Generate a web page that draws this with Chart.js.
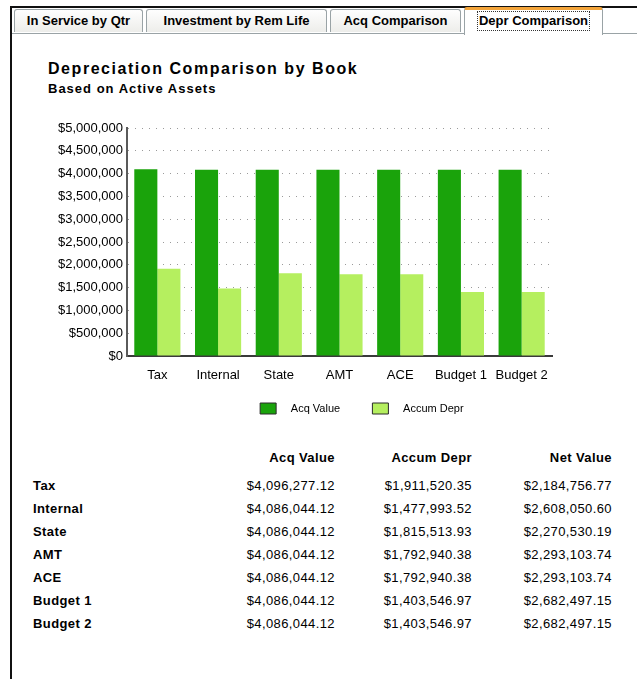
<!DOCTYPE html>
<html>
<head>
<meta charset="utf-8">
<title>Depr Comparison</title>
<script src="https://cdn.jsdelivr.net/npm/chart.js@4.4.1/dist/chart.umd.min.js"></script>
<style>
  html, body {
    margin: 0;
    padding: 0;
    background: #fff;
    width: 637px;
    height: 679px;
    overflow: hidden;
    font-family: "Liberation Sans", Arial, sans-serif;
    color: #000;
  }
  .frame {
    position: absolute;
    left: 10px;
    top: 6px;
    width: 640px;
    height: 700px;
    border-left: 2px solid #111;
    border-top: 2px solid #111;
  }
  .tabline {
    position: absolute;
    left: 12px;
    top: 33px;
    width: 625px;
    height: 0;
    border-top: 1px solid #9aa3a6;
  }
  .tab {
    position: absolute;
    top: 9px;
    height: 23px;
    box-sizing: border-box;
    border: 1px solid #9aa3a6;
    border-bottom: none;
    border-radius: 3px 3px 0 0;
    background: linear-gradient(#fefefe, #ededea);
    font-weight: bold;
    font-size: 13px;
    line-height: 22px;
    text-align: center;
    white-space: nowrap;
  }
  .tab.active {
    top: 7px;
    height: 28px;
    background: #fff;
    border-top: 3px solid #f3a43a;
    line-height: 22px;
  }
  .tab.active span {
    display: inline-block;
    border: 1px dotted #333;
    padding: 0 1px;
    line-height: 18px;
  }
  .title {
    position: absolute;
    left: 48px;
    top: 61px;
    font-size: 16px;
    line-height: 16px;
    font-weight: bold;
    letter-spacing: 1.55px;
  }
  .subtitle {
    position: absolute;
    left: 48px;
    top: 82px;
    font-size: 13px;
    line-height: 13px;
    font-weight: bold;
    letter-spacing: 1px;
  }
  #chartBox {
    position: absolute;
    left: 0;
    top: 110px;
    width: 637px;
    height: 314px;
  }
  .cell {
    position: absolute;
    font-size: 13px;
    line-height: 16px;
    white-space: nowrap;
    letter-spacing: 0.4px;
  }
  .cell.b { font-weight: bold; }
</style>
</head>
<body>
<div class="frame"></div>
<div class="tabline"></div>
<div class="tab" style="left:14px;width:129px;">In Service by Qtr</div>
<div class="tab" style="left:146px;width:181px;">Investment by Rem Life</div>
<div class="tab" style="left:330px;width:131px;">Acq Comparison</div>
<div class="tab active" style="left:464px;width:139px;"><span>Depr Comparison</span></div>

<div class="title">Depreciation Comparison by Book</div>
<div class="subtitle">Based on Active Assets</div>

<div id="chartBox"><canvas id="deprChart"></canvas></div>
<div id="summary"></div>

<script>
// Books and their totals
const books = ["Tax", "Internal", "State", "AMT", "ACE", "Budget 1", "Budget 2"];
const acqValue = [4096277.12, 4086044.12, 4086044.12, 4086044.12, 4086044.12, 4086044.12, 4086044.12];
const accumDepr = [1911520.35, 1477993.52, 1815513.93, 1792940.38, 1792940.38, 1403546.97, 1403546.97];
const netValue = [2184756.77, 2608050.60, 2270530.19, 2293103.74, 2293103.74, 2682497.15, 2682497.15];

const seriesNames = ["Acq Value", "Accum Depr"];
const columnNames = ["Acq Value", "Accum Depr", "Net Value"];

const ACQ_COLOR = "#1aa30b";
const DEPR_COLOR = "#b5ef5f";
const FONT = "'Liberation Sans', Arial, sans-serif";

const money = (v) => "$" + v.toLocaleString("en-US");
const money2 = (v) =>
  "$" + v.toLocaleString("en-US", { minimumFractionDigits: 2, maximumFractionDigits: 2 });

// nudge the legend row to the right, it sits off-centre under the plot
const legendNudge = {
  id: "legendNudge",
  afterLayout(chart) {
    chart.legend.left += 30;
    chart.legend.right += 30;
  },
};

const ctx = document.getElementById("deprChart").getContext("2d");

new Chart(ctx, {
  type: "bar",
  data: {
    labels: books,
    datasets: [
      {
        label: seriesNames[0],
        data: acqValue,
        backgroundColor: ACQ_COLOR,
        borderWidth: 0,
      },
      {
        label: seriesNames[1],
        data: accumDepr,
        backgroundColor: DEPR_COLOR,
        borderWidth: 0,
      },
    ],
  },
  options: {
    responsive: true,
    maintainAspectRatio: false,
    animation: false,
    datasets: {
      bar: {
        categoryPercentage: 0.76,
        barPercentage: 1.0,
      },
    },
    layout: {
      padding: { left: 0, top: 18, right: 85, bottom: 0 },
    },
    plugins: {
      tooltip: { enabled: false },
      legend: {
        display: true,
        position: "bottom",
        fullSize: false,
        labels: {
          boxWidth: 16,
          boxHeight: 11,
          padding: 17,
          color: "#000",
          font: { family: FONT, size: 11 },
          generateLabels(chart) {
            // wider gap after the swatch and between the two entries
            return Chart.defaults.plugins.legend.labels
              .generateLabels(chart)
              .map((item) => ({
                ...item,
                text: "   " + item.text + "     ",
                strokeStyle: "#2b2b2b",
                lineWidth: 1,
              }));
          },
        },
      },
    },
    scales: {
      x: {
        grid: { display: false, drawTicks: false },
        border: { display: true, color: "#3a3a3a", width: 2 },
        ticks: {
          padding: 12,
          maxRotation: 0,
          autoSkip: false,
          color: "#000",
          font: { family: FONT, size: 13 },
        },
        afterFit(scale) {
          scale.height = 30;
        },
      },
      y: {
        min: 0,
        max: 5000000,
        grid: { color: "#9a9a9a", lineWidth: 1, drawTicks: false },
        border: { display: true, color: "#5a5a5a", width: 2, dash: [1, 6] },
        ticks: {
          stepSize: 500000,
          padding: 4,
          color: "#000",
          font: { family: FONT, size: 13 },
          callback: (value) => money(value),
        },
        afterFit(scale) {
          scale.width = 127;
        },
      },
    },
  },
  plugins: [legendNudge],
});

// Summary table under the chart
const summary = document.getElementById("summary");
const colRight = [302, 165, 25]; // distance from page right edge
const HEADER_Y = 450;
const ROW_Y0 = 478;
const ROW_STEP = 23;

function addCell(text, top, opts) {
  const el = document.createElement("div");
  el.className = "cell" + (opts.bold ? " b" : "");
  el.textContent = text;
  el.style.top = top + "px";
  if (opts.left !== undefined) el.style.left = opts.left + "px";
  if (opts.right !== undefined) el.style.right = opts.right + "px";
  summary.appendChild(el);
}

columnNames.forEach((name, c) => {
  addCell(name, HEADER_Y, { bold: true, right: colRight[c] });
});

books.forEach((book, i) => {
  const top = ROW_Y0 + i * ROW_STEP;
  addCell(book, top, { bold: true, left: 33 });
  [acqValue[i], accumDepr[i], netValue[i]].forEach((v, c) => {
    addCell(money2(v), top, { right: colRight[c] });
  });
});
</script>
</body>
</html>
